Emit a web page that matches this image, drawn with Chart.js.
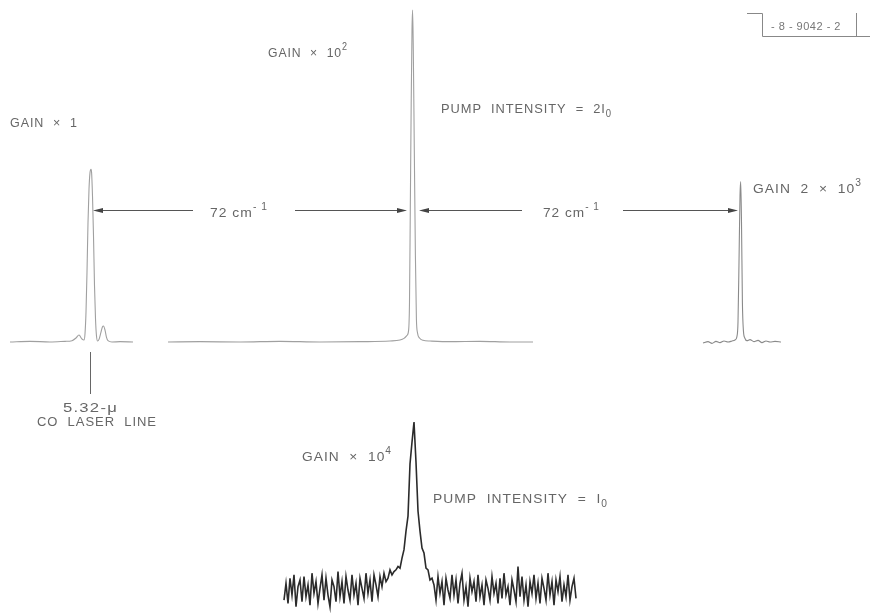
<!DOCTYPE html>
<html>
<head>
<meta charset="utf-8">
<script src="https://cdn.jsdelivr.net/npm/chart.js@4.4.1/dist/chart.umd.min.js"></script>
<style>
  html, body { margin: 0; padding: 0; background: #fff; }
  #wrap { width: 875px; height: 616px; position: relative; }
</style>
</head>
<body>
<div id="wrap"><canvas id="chart"></canvas></div>
<script>
// Trace 1 : raie du laser CO (gain x 1) - position, signal relatif
const coX = [10, 30, 50, 65, 72, 76, 79, 82, 84, 85, 86, 87, 88, 89, 90, 91, 91.6, 92.5, 93.5, 94.5, 95.5, 96.5, 97.5, 99, 101, 102.5, 103.5, 105, 106.5, 108, 112, 120, 133];
const coY = [0, 0.2, 0, 0.2, 0.4, 1.2, 2.1, 0.9, 0.6, 2.5, 9, 21, 36, 46, 51, 52, 51, 44, 32, 17, 7, 1.8, 0.3, 0.8, 3, 4.6, 4.8, 3.6, 1.4, 0.4, 0, 0.1, 0];

// Trace 2 : gain x 10^2, intensité de pompe 2 I0
const pumpX = [168, 200, 240, 280, 320, 360, 390, 400, 404, 407, 408.6, 409.5, 410.3, 411.2, 412, 412.6, 413.3, 414.3, 415.4, 416.4, 417.6, 419.5, 423, 430, 450, 480, 510, 533];
const pumpY = [0, 0.1, 0, 0.2, 0, 0.1, 0.3, 0.6, 1.1, 2, 3.5, 12, 40, 72, 94, 100, 88, 58, 26, 7, 2.6, 1.2, 0.5, 0.3, 0.1, 0.2, 0, 0];

// Trace 3 : gain 2 x 10^3
const stokesX = [703, 708, 712, 716, 720, 724, 728, 732, 735, 736.8, 738, 739, 740, 740.7, 741.5, 742.4, 743.4, 744.8, 747, 750, 754, 758, 762, 766, 770, 775, 781];
const stokesY = [-0.3, 0.1, -0.4, 0.2, -0.2, 0.3, 0, 0.3, 0.6, 1.5, 6, 24, 44, 48.3, 36, 12, 3.5, 1.2, 0.4, 0.7, 0.1, 0.5, -0.2, 0.3, 0, 0.2, 0];

// Trace 4 : gain x 10^4, intensité de pompe I0 (échantillons tous les 2 points de position)
const weakStart = 284;
const weakStep = 2;
const weakY = [
  -6, 4, -8, 7, -3, 9, -10, 2, 6, -7,
  8, -4, 3, -9, 10, -2, 5, -8, 1, 9,
  -6, 7, -3, -10, 6, 2, -7, 11, -4, 5,
  -8, 8, 0, -6, 9, -3, 4, -9, 7, 1,
  -5, 10, -2, 6, -7, 9, 3, -4, 8, 2,
  10, 5, 7, 12, 9, 11,
  12, 14, 13, 19, 24, 35, 44, 75, 88, 100, 76, 47, 35, 25, 22, 13, 12, 6, 7,
  3, -6, 8, -2, 5, -9, 7, 0, -5, 9,
  -3, 6, -8, 4, 10, -6, 2, -10, 7, -1,
  5, -7, 9, -4, 3, -9, 6, 1, -6, 8,
  -2, 4, -8, 7, -5, 10, -3, 2, -9, 6,
  0, -7, 14, -4, 8, -6, 3, -10, 5, -2,
  9, -5, 4, -8, 7, 1, -6, 10, -3, 5,
  -9, 6, -1, 8, -7, 3, -4, 9, -6, 2,
  7, -5
];

const toPoints = (xs, ys) => ys.map((y, i) => ({ x: xs[i], y: y }));
const weakPoints = weakY.map((y, i) => ({ x: weakStart + i * weakStep, y: y }));

// textes : [x, ligne de base, largeur visée, morceaux]
const labels = [
  [10, 127, 68, [["GAIN  \u00d7  1"]]],
  [268, 57, 80, [["GAIN  \u00d7  10"], ["2", "sup"]]],
  [441, 113, 171, [["PUMP  INTENSITY  =  2I"], ["0", "sub"]]],
  [210, 217, 58, [["72 cm"], ["- 1", "sup"]]],
  [543, 217, 57, [["72 cm"], ["- 1", "sup"]]],
  [753, 193, 109, [["GAIN  2  \u00d7  10"], ["3", "sup"]]],
  [63, 412, 55, [["5.32-\u03bc"]]],
  [37, 426, 120, [["CO  LASER  LINE"]]],
  [302, 461, 90, [["GAIN  \u00d7  10"], ["4", "sup"]]],
  [433, 503, 175, [["PUMP  INTENSITY  =  I"], ["0", "sub"]]]
];

// flèches : [x début, x fin (pointe), y]
const arrows = [
  [193, 93, 210],
  [295, 407, 210],
  [522, 419, 210],
  [623, 738, 210]
];

const font = "'Liberation Sans', Arial, sans-serif";

const decor = {
  id: "decor",
  afterDatasetsDraw(chart) {
    const ctx = chart.ctx;
    ctx.save();
    ctx.fillStyle = "#666";
    ctx.strokeStyle = "#555";
    ctx.lineWidth = 1;

    labels.forEach(([x, y, w, parts]) => {
      ctx.save();
      ctx.letterSpacing = "1px";
      let total = 0;
      parts.forEach(([t, k]) => {
        ctx.font = (k ? "10px " : "13.5px ") + font;
        total += ctx.measureText(t).width;
      });
      ctx.translate(x, y);
      ctx.scale(w / total, 1);
      let cx = 0;
      parts.forEach(([t, k]) => {
        ctx.font = (k ? "10px " : "13.5px ") + font;
        const dy = k === "sup" ? -7 : k === "sub" ? 4 : 0;
        ctx.fillText(t, cx, dy);
        cx += ctx.measureText(t).width;
      });
      ctx.restore();
    });

    arrows.forEach(([x0, x1, y]) => {
      const dir = Math.sign(x1 - x0);
      ctx.beginPath();
      ctx.moveTo(x0, y + 0.5);
      ctx.lineTo(x1 - dir * 8, y + 0.5);
      ctx.strokeStyle = "#555";
      ctx.stroke();
      ctx.beginPath();
      ctx.moveTo(x1, y + 0.5);
      ctx.lineTo(x1 - dir * 10, y - 2);
      ctx.lineTo(x1 - dir * 10, y + 3);
      ctx.closePath();
      ctx.fillStyle = "#444";
      ctx.fill();
    });

    // repère de la raie CO
    ctx.beginPath();
    ctx.moveTo(90.5, 352);
    ctx.lineTo(90.5, 394);
    ctx.strokeStyle = "#666";
    ctx.stroke();

    // numéro de figure encadré
    ctx.strokeStyle = "#888";
    ctx.beginPath();
    ctx.moveTo(747, 13.5);
    ctx.lineTo(762.5, 13.5);
    ctx.lineTo(762.5, 36.5);
    ctx.lineTo(870, 36.5);
    ctx.moveTo(856.5, 13);
    ctx.lineTo(856.5, 36);
    ctx.stroke();
    ctx.fillStyle = "#777";
    ctx.font = "11px " + font;
    ctx.letterSpacing = "0.5px";
    ctx.fillText("- 8 - 9042 - 2", 771, 30);
    ctx.restore();
  }
};

const grey = "#a0a0a0";
new Chart(document.getElementById("chart"), {
  type: "scatter",
  data: {
    datasets: [
      { data: toPoints(coX, coY), yAxisID: "y", borderColor: grey, borderWidth: 1.1, showLine: true, pointRadius: 0, cubicInterpolationMode: "monotone" },
      { data: toPoints(pumpX, pumpY), yAxisID: "y", borderColor: grey, borderWidth: 1.1, showLine: true, pointRadius: 0, cubicInterpolationMode: "monotone" },
      { data: toPoints(stokesX, stokesY), yAxisID: "y", borderColor: "#8a8a8a", borderWidth: 1.1, showLine: true, pointRadius: 0, cubicInterpolationMode: "monotone" },
      { data: weakPoints, yAxisID: "y2", borderColor: "#2b2b2b", borderWidth: 1.6, showLine: true, pointRadius: 0, tension: 0 }
    ]
  },
  options: {
    responsive: true,
    maintainAspectRatio: false,
    animation: false,
    layout: { padding: 0 },
    plugins: { legend: { display: false }, tooltip: { enabled: false } },
    scales: {
      x: { type: "linear", min: 0, max: 875, display: false },
      y: { type: "linear", min: -82.53, max: 103.01, display: false },
      y2: { type: "linear", min: -15.48, max: 351.19, display: false }
    }
  },
  plugins: [decor]
});
</script>
</body>
</html>
